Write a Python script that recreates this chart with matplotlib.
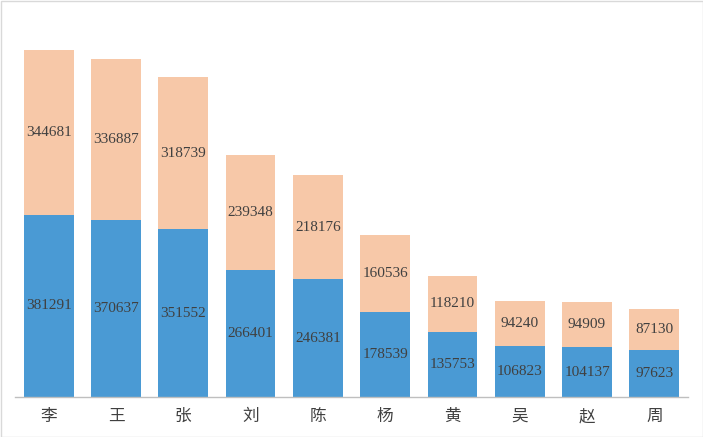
import matplotlib.pyplot as plt
import numpy as np

# ── data ──────────────────────────────────────────────────────────────
names = ["李", "王", "张", "刘", "陈", "杨", "黄", "吴", "赵", "周"]
bottom_vals = [381291, 370637, 351552, 266401, 246381, 178539, 135753, 106823, 104137, 97623]
top_vals = [344681, 336887, 318739, 239348, 218176, 160536, 118210, 94240, 94909, 87130]

blue = "#4A9AD4"
peach = "#F7C8A8"
txt = "#404040"

fig = plt.figure(figsize=(7.03, 4.37), dpi=100)
ax = fig.add_axes([15 / 703, 40 / 437, 673 / 703, 383 / 437])

x = np.arange(len(names))
b1 = ax.bar(x, bottom_vals, width=0.74, color=blue)
b2 = ax.bar(x, top_vals, width=0.74, bottom=bottom_vals, color=peach)

for bars in (b1, b2):
    ax.bar_label(bars, label_type="center", fontsize=11, color=txt,
                 family="Liberation Serif")

ax.set_xlim(-0.5, len(names) - 0.5)
ax.set_ylim(0, 802000)
ax.set_xticks(x)
ax.set_xticklabels(names, fontsize=12, color=txt, family=["Noto Sans CJK SC", "DejaVu Sans"])
ax.tick_params(axis="x", length=0, pad=8)
ax.set_yticks([])
for s in ("top", "left", "right"):
    ax.spines[s].set_visible(False)
ax.spines["bottom"].set_color("#BFBFBF")
ax.spines["bottom"].set_linewidth(1)

# light frame round the whole picture
fig.patches.append(plt.Rectangle((0.5 / 703, 0.5 / 437), 702 / 703, 436 / 437,
                                 transform=fig.transFigure, fill=False,
                                 edgecolor="#D9D9D9", linewidth=1))

fig.savefig("out.png", dpi=100)
